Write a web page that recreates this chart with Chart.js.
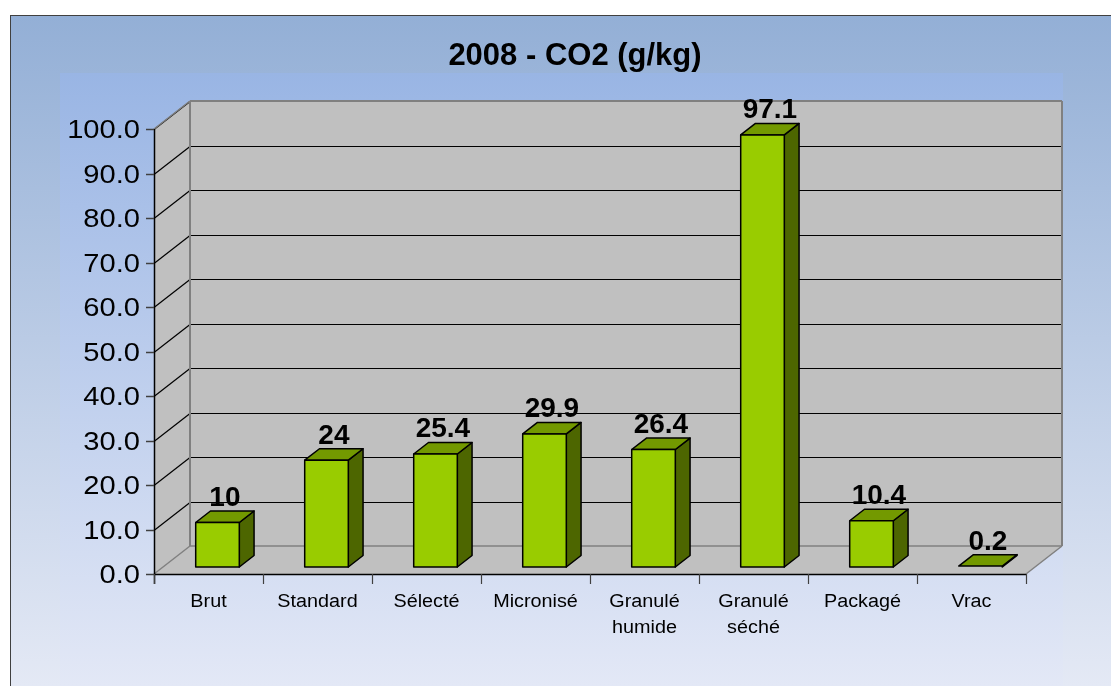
<!DOCTYPE html>
<html>
<head>
<meta charset="utf-8">
<title>2008 - CO2 (g/kg)</title>
<script src="https://cdn.jsdelivr.net/npm/chart.js@4/dist/chart.umd.min.js"></script>
<style>
  html, body { margin: 0; padding: 0; background: #fff; }
  #chart { display: block; }
</style>
</head>
<body>
<canvas id="chart" width="1111" height="686"></canvas>
<script>
// ---- data ----
const chartTitle = '2008 - CO2 (g/kg)';
const categories = [['Brut'], ['Standard'], ['Sélecté'], ['Micronisé'], ['Granulé', 'humide'], ['Granulé', 'séché'], ['Packagé'], ['Vrac']];
const co2Values = [10, 24, 25.4, 29.9, 26.4, 97.1, 10.4, 0.2];
const valueLabels = ['10', '24', '25.4', '29.9', '26.4', '97.1', '10.4', '0.2'];
const yTicks = [0, 10, 20, 30, 40, 50, 60, 70, 80, 90, 100];

// 3D look
const DEPTH = { dx: 36, dy: -28 };      // back wall offset
const BAR_OFF = 0.25, BAR_DEPTH = 0.41; // bar position inside the depth
const WALL = '#c0c0c0';
const BAR_FRONT = '#99cc00', BAR_TOP = '#739900', BAR_SIDE = '#4d6600';
const FONT = 'Arial, "Liberation Sans", sans-serif';

function poly(ctx, pts, fill, stroke, lw) {
  ctx.beginPath();
  ctx.moveTo(pts[0][0], pts[0][1]);
  for (let i = 1; i < pts.length; i++) ctx.lineTo(pts[i][0], pts[i][1]);
  ctx.closePath();
  if (fill) { ctx.fillStyle = fill; ctx.fill(); }
  if (stroke) { ctx.strokeStyle = stroke; ctx.lineWidth = lw || 1; ctx.stroke(); }
}

function line(ctx, x1, y1, x2, y2, color, lw) {
  ctx.beginPath();
  ctx.moveTo(x1, y1);
  ctx.lineTo(x2, y2);
  ctx.strokeStyle = color;
  ctx.lineWidth = lw || 1;
  ctx.stroke();
}

// text a bit wider than the font, like the original rendering
function wideText(ctx, t, x, y, sx) {
  ctx.save();
  ctx.translate(x, y);
  ctx.scale(sx, 1);
  ctx.fillText(t, 0, 0);
  ctx.restore();
}

const scenePlugin = {
  id: 'scene3d',
  beforeDraw(chart) {
    const ctx = chart.ctx;
    const { left, right } = chart.chartArea;
    const y = chart.scales.y;
    const dx = DEPTH.dx, dy = DEPTH.dy;
    ctx.save();

    // outer background
    let g = ctx.createLinearGradient(0, 15, 0, 686);
    g.addColorStop(0, '#93afd6');
    g.addColorStop(1, '#e4e9f5');
    ctx.fillStyle = g;
    ctx.fillRect(10, 15, 1101, 671);
    // inner plot background
    g = ctx.createLinearGradient(0, 73, 0, 686);
    g.addColorStop(0, '#99b5e4');
    g.addColorStop(1, '#e3e8f6');
    ctx.fillStyle = g;
    ctx.fillRect(60, 73, 1003, 613);
    ctx.strokeStyle = '#404040';
    ctx.lineWidth = 1;
    ctx.strokeRect(10.5, 15.5, 1110, 680);

    // title
    ctx.fillStyle = '#000';
    ctx.font = 'bold 31px ' + FONT;
    ctx.textAlign = 'center';
    ctx.textBaseline = 'middle';
    ctx.fillText(chartTitle, 575, 56);

    const y0 = y.getPixelForValue(0);
    const y100 = y.getPixelForValue(100);

    // back wall, side wall, floor
    poly(ctx, [[left + dx, y100 + dy], [right + dx, y100 + dy], [right + dx, y0 + dy], [left + dx, y0 + dy]], WALL);
    poly(ctx, [[left, y100], [left + dx, y100 + dy], [left + dx, y0 + dy], [left, y0]], WALL);
    poly(ctx, [[left, y0], [left + dx, y0 + dy], [right + dx, y0 + dy], [right, y0]], WALL);

    // gridlines
    yTicks.forEach(v => {
      if (v === 0) return;
      const py = Math.round(y.getPixelForValue(v)) + 0.5;
      line(ctx, left, py, left + dx, py + dy, '#000', 1.2);
      line(ctx, left + dx, py + dy, right + dx, py + dy, '#000', 1.2);
    });

    // wall edges
    const ed = '#808080';
    line(ctx, left, y100, left + dx, y100 + dy, ed, 1.5);
    line(ctx, left + dx, y100 + dy, right + dx, y100 + dy, ed, 2);
    line(ctx, left + dx, y100 + dy, left + dx, y0 + dy, ed, 2);
    line(ctx, right + dx, y100 + dy, right + dx, y0 + dy, ed, 2);
    line(ctx, left, y0, left + dx, y0 + dy, ed, 1.5);
    line(ctx, left + dx, y0 + dy, right + dx, y0 + dy, ed, 1.5);
    line(ctx, right, y0, right + dx, y0 + dy, ed, 1.5);

    // axes
    line(ctx, left + 0.5, y100, left + 0.5, y0 + 10, '#000', 1.5);
    line(ctx, left, y0 + 0.5, right, y0 + 0.5, '#000', 1.5);

    // y ticks + labels
    ctx.font = '26px ' + FONT;
    ctx.textAlign = 'right';
    ctx.textBaseline = 'middle';
    yTicks.forEach(v => {
      const py = Math.round(y.getPixelForValue(v)) + 0.5;
      line(ctx, left - 8, py, left, py, '#404040', 1.5);
      ctx.fillStyle = '#000';
      wideText(ctx, v.toFixed(1), left - 14, py + 1, 1.12);
    });

    // x ticks + labels
    const x = chart.scales.x;
    const n = categories.length;
    const cw = (right - left) / n;
    for (let i = 0; i <= n; i++) {
      const px = Math.round(left + i * cw) + 0.5;
      line(ctx, px, y0, px, y0 + 10, '#404040', 1.2);
    }
    ctx.font = '18px ' + FONT;
    ctx.textAlign = 'center';
    ctx.fillStyle = '#000';
    categories.forEach((lines, i) => {
      const cx = x.getPixelForValue(i);
      lines.forEach((t, k) => wideText(ctx, t, cx, y0 + 28 + k * 26, 1.1));
    });
    ctx.restore();
  },
  afterDatasetsDraw(chart) {
    const ctx = chart.ctx;
    const meta = chart.getDatasetMeta(0);
    const ox = DEPTH.dx * BAR_OFF, oy = DEPTH.dy * BAR_OFF;
    const bx = DEPTH.dx * BAR_DEPTH, by = DEPTH.dy * BAR_DEPTH;
    ctx.save();
    ctx.lineJoin = 'round';
    meta.data.forEach((el, i) => {
      const p = el.getProps(['x', 'y', 'base', 'width'], true);
      const x0 = p.x - p.width / 2 + ox, x1 = p.x + p.width / 2 + ox;
      const yt = p.y + oy, yb = p.base + oy;
      // side
      poly(ctx, [[x1, yt], [x1 + bx, yt + by], [x1 + bx, yb + by], [x1, yb]], BAR_SIDE, '#000', 1.5);
      // top
      poly(ctx, [[x0, yt], [x0 + bx, yt + by], [x1 + bx, yt + by], [x1, yt]], BAR_TOP, '#000', 1.5);
      // front
      if (yb - yt > 1) poly(ctx, [[x0, yt], [x1, yt], [x1, yb], [x0, yb]], BAR_FRONT, '#000', 1.5);
      // value label
      ctx.fillStyle = '#000';
      ctx.font = 'bold 28px ' + FONT;
      ctx.textAlign = 'center';
      ctx.textBaseline = 'alphabetic';
      ctx.fillText(valueLabels[i], (x0 + x1) / 2 + bx / 2, yt + by - 5);
    });
    ctx.restore();
  }
};

new Chart(document.getElementById('chart'), {
  type: 'bar',
  data: {
    labels: categories,
    datasets: [{
      label: 'CO2 (g/kg)',
      data: co2Values,
      backgroundColor: 'rgba(0,0,0,0)',
      borderWidth: 0,
      categoryPercentage: 1,
      barPercentage: 0.4
    }]
  },
  options: {
    responsive: false,
    animation: false,
    layout: { padding: { left: 154, top: 129, right: 85, bottom: 112 } },
    plugins: { legend: { display: false }, tooltip: { enabled: false }, title: { display: false } },
    scales: {
      x: { display: false, offset: true },
      y: { display: false, min: 0, max: 100, ticks: { stepSize: 10 } }
    }
  },
  plugins: [scenePlugin]
});
</script>
</body>
</html>
